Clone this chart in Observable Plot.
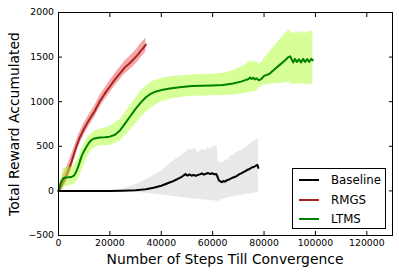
<!DOCTYPE html>
<html><head><meta charset="utf-8">
<script src="https://cdn.jsdelivr.net/npm/d3@7"></script>
<script src="https://cdn.jsdelivr.net/npm/@observablehq/plot@0.6"></script>
<style>
body{margin:0;background:#fff;}
#wrap{position:relative;width:399px;height:275px;font-family:"DejaVu Sans",sans-serif;}
#wrap svg{position:absolute;left:0;top:0;}
.lab{position:absolute;font-size:13.9px;color:#000;white-space:nowrap;}
#legend{position:absolute;left:292px;top:168px;width:92px;height:59px;border:1px solid #000;background:#fff;font-size:11.8px;}
#legend .row{position:absolute;left:6px;height:14px;display:flex;align-items:center;}
#legend .row span{margin-left:12px;}
</style></head>
<body><div id="wrap"></div>
<script>
// ---- data ----
const seriesNames = ["Baseline", "RMGS", "LTMS"];
const seriesColors = ["#000000", "#a82424", "#008000"];
const xTicks = [0, 20000, 40000, 60000, 80000, 100000, 120000];
const yTicks = [-500, 0, 500, 1000, 1500, 2000];

// Baseline mean
const baseX = [0,10000,20000,25000,30000,34000,37000,40000,42000,44000,46000,48000,49400,50200,51000,51800,52600,53400,54200,55000,55800,56600,57400,58200,59000,59800,60600,61400,62000,62400,63000,63600,64200,64800,65600,66400,67200,68000,68800,69600,70400,71200,72000,72800,73600,74400,75200,76000,76800,77400,77800];
const baseY = [0,0,0,2,6,18,36,58,80,102,128,158,188,172,185,170,180,168,178,185,196,182,192,200,190,198,186,190,150,118,108,98,112,104,120,128,140,150,158,172,188,196,212,222,238,245,262,268,282,292,258];
// Baseline band
const baseBandX = [0,20000,25000,30000,35000,40000,44000,48000,50000,51000,52000,53000,54000,55000,56000,57000,58000,59000,60000,61000,61800,62200,63000,64000,65000,66000,67000,68000,70000,72000,74000,75500,76500,77800];
const baseHi = [0,0,20,70,140,220,320,400,440,470,455,480,430,440,470,450,480,470,490,500,510,300,330,310,350,340,390,400,440,470,510,545,560,590];
const baseLo = [0,0,-5,-15,-30,-45,-60,-75,-82,-85,-90,-92,-95,-97,-100,-102,-105,-108,-110,-112,-115,-118,-105,-95,-85,-78,-72,-65,-55,-45,-35,-28,-24,-20];

// RMGS
const rmgsX = [0,1000,2000,3000,4000,5000,6000,7000,8000,10000,12000,14000,16000,18000,20000,22000,24000,26000,28000,30000,31000,32000,33000,34000];
const rmgsY = [0,50,110,170,240,320,410,500,580,700,800,890,1000,1090,1170,1250,1320,1390,1440,1500,1530,1570,1600,1640];
const rmgsHi = [0,120,190,250,320,400,480,560,640,760,860,950,1060,1150,1235,1315,1390,1460,1515,1575,1610,1650,1680,1715];
const rmgsLo = [0,0,40,90,160,240,340,430,510,630,730,820,930,1020,1100,1180,1250,1315,1365,1420,1450,1490,1520,1560];

// LTMS
const ltmsX = [0,1000,2000,3000,4000,5000,6000,7000,8000,9000,10000,11000,12000,13000,14000,16000,18000,20000,22000,24000,26000,28000,30000,32000,34000,36000,38000,40000,44000,48000,52000,56000,60000,64000,68000,71000,73000,74000,74600,75200,75800,76400,77000,78000,79000,80000,82000,84000,86000,88000,89500,90200,90800,91400,92000,92800,93600,94400,95200,96000,96800,97600,98400,99000];
const ltmsY = [0,100,145,150,152,155,170,220,300,390,450,500,545,575,588,598,602,608,630,680,760,840,920,990,1050,1090,1115,1130,1150,1165,1175,1180,1182,1186,1205,1225,1245,1255,1270,1255,1268,1250,1262,1240,1255,1290,1310,1360,1410,1460,1500,1508,1470,1440,1480,1445,1475,1440,1480,1445,1478,1445,1480,1465];
const ltmsBandX = [0,2000,4000,6000,8000,10000,12000,14000,16000,20000,24000,28000,32000,36000,40000,44000,48000,52000,56000,60000,64000,68000,72000,74000,75000,75500,76000,76500,77000,78000,79000,80000,84000,88000,90000,90500,91000,91800,92500,93300,94000,95000,95800,96500,97500,98500,99000];
const ltmsHi = [0,260,260,280,380,530,620,670,690,720,800,960,1120,1220,1260,1280,1290,1300,1305,1308,1320,1350,1400,1440,1465,1440,1460,1430,1455,1420,1440,1480,1620,1760,1810,1760,1780,1750,1790,1760,1790,1770,1790,1760,1790,1780,1800];
const ltmsLo = [0,40,60,70,140,300,420,480,505,510,560,680,820,930,1000,1030,1050,1060,1065,1068,1070,1075,1090,1100,1110,1105,1115,1110,1120,1150,1170,1185,1200,1210,1220,1190,1200,1195,1205,1190,1200,1195,1205,1190,1200,1190,1195];

// ---- build tables ----
const line = (xs, ys) => xs.map((x, i) => ({x, y: ys[i]}));
const band = (xs, lo, hi) => xs.map((x, i) => ({x, lo: lo[i], hi: hi[i]}));
const fmt = d => (d < 0 ? "\u2212" + (-d) : String(d));

const chart = Plot.plot({
  width: 399, height: 275,
  marginLeft: 58, marginRight: 7, marginTop: 12, marginBottom: 40,
  style: {fontFamily: "DejaVu Sans, sans-serif", fontSize: "9.3px", color: "#000", background: "#fff"},
  x: {domain: [0, 130000]},
  y: {domain: [-500, 2000]},
  marks: [
    Plot.areaY(band(baseBandX, baseLo, baseHi), {x: "x", y1: "lo", y2: "hi", fill: "#e6e6e6", fillOpacity: 0.9}),
    Plot.line(line(baseX, baseY), {x: "x", y: "y", stroke: seriesColors[0], strokeWidth: 2}),
    Plot.areaY(band(rmgsX, rmgsLo, rmgsHi), {x: "x", y1: "lo", y2: "hi", fill: "#f08080", fillOpacity: 0.7}),
    Plot.line(line(rmgsX, rmgsY), {x: "x", y: "y", stroke: seriesColors[1], strokeWidth: 2}),
    Plot.areaY(band(ltmsBandX, ltmsLo, ltmsHi), {x: "x", y1: "lo", y2: "hi", fill: "#adff2f", fillOpacity: 0.5}),
    Plot.line(line(ltmsX, ltmsY), {x: "x", y: "y", stroke: seriesColors[2], strokeWidth: 2}),
    Plot.axisX({ticks: xTicks, tickFormat: fmt, tickSize: -4, tickPadding: 8, label: null}),
    Plot.axisX({anchor: "top", ticks: xTicks, tickFormat: () => "", tickSize: -4, label: null}),
    Plot.axisY({ticks: yTicks, tickFormat: fmt, tickSize: -4, tickPadding: 8.5, label: null}),
    Plot.axisY({anchor: "right", ticks: yTicks, tickFormat: () => "", tickSize: -4, label: null}),
    Plot.frame({stroke: "#000"})
  ]
});
const wrap = document.getElementById("wrap");
wrap.appendChild(chart);

const xl = document.createElement("div");
xl.className = "lab"; xl.textContent = "Number of Steps Till Convergence";
xl.style.left = "225px"; xl.style.top = "251px"; xl.style.transform = "translateX(-50%)";
wrap.appendChild(xl);
const yl = document.createElement("div");
yl.className = "lab"; yl.textContent = "Total Reward Accumulated";
yl.style.left = "14px"; yl.style.top = "124px"; yl.style.transform = "translate(-50%,-50%) rotate(-90deg)";
wrap.appendChild(yl);

const lg = document.createElement("div");
lg.id = "legend";
seriesNames.forEach((n, i) => {
  const r = document.createElement("div");
  r.className = "row"; r.style.top = (4 + i * 19.5) + "px";
  r.innerHTML = `<svg width="20" height="4" style="position:static"><line x1="0" x2="20" y1="2" y2="2" stroke="${seriesColors[i]}" stroke-width="2"/></svg><span>${n}</span>`;
  lg.appendChild(r);
});
wrap.appendChild(lg);
</script></body></html>
